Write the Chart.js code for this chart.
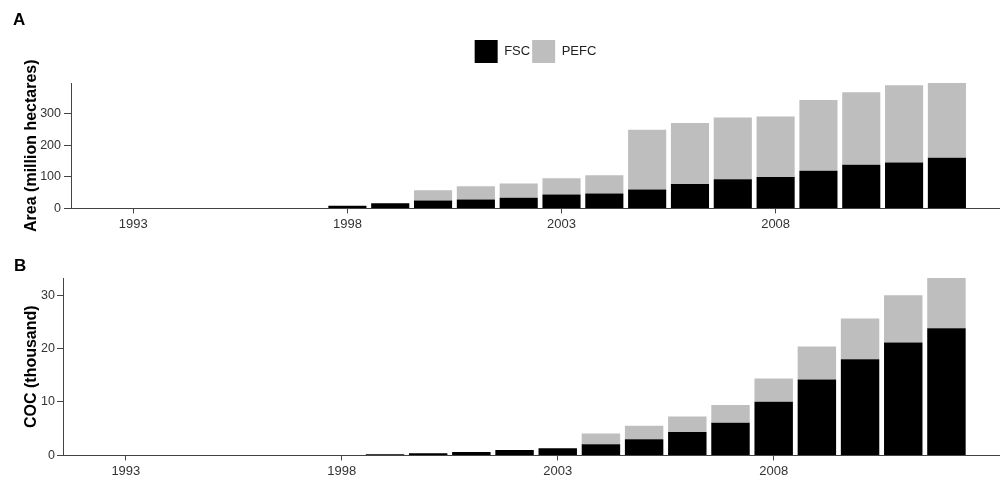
<!DOCTYPE html>
<html>
<head>
  <title>FSC and PEFC certification</title>
  <script src="https://cdn.jsdelivr.net/npm/chart.js"></script>
  <style>
    body {
      margin: 0;
      background: #fff;
      font-family: "Liberation Sans", Arial, sans-serif;
    }
    .panel {
      position: absolute;
      left: 0;
      width: 1000px;
    }
    #panelA { top: 0; height: 240px; }
    #panelB { top: 240px; height: 245px; }
    .tag {
      position: absolute;
      font-weight: bold;
      font-size: 17px;
      line-height: 17px;
      color: #000;
    }
  </style>
</head>
<body>
  <div class="panel" id="panelA"><canvas id="areaChart"></canvas></div>
  <div class="panel" id="panelB"><canvas id="cocChart"></canvas></div>
  <div class="tag" style="left:13px; top:11px;">A</div>
  <div class="tag" style="left:14px; top:257px;">B</div>

  <script>
    const years = [1998, 1999, 2000, 2001, 2002, 2003, 2004, 2005, 2006, 2007, 2008, 2009, 2010, 2011, 2012];
    const yearTicks = [1993, 1998, 2003, 2008];

    // A: certified area, million hectares
    const areaFSC  = [8, 16, 25, 28, 34, 44, 47, 60, 77, 92, 99, 119, 138, 145, 160];
    const areaPEFC = [0, 0, 32, 42, 45, 51, 58, 188, 193, 195, 191, 223, 229, 244, 237];
    const areaTicks = [0, 100, 200, 300];

    // B: chain of custody certificates, thousand
    const cocFSC  = [0, 0.2, 0.4, 0.65, 1.0, 1.35, 2.1, 3.0, 4.4, 6.1, 10.05, 14.2, 18.0, 21.15, 23.8];
    const cocPEFC = [0, 0, 0, 0, 0, 0, 2.0, 2.55, 2.9, 3.35, 4.35, 6.2, 7.6, 8.8, 9.4];
    const cocTicks = [0, 10, 20, 30];

    const FONT = '"Liberation Sans", Arial, sans-serif';
    const AXIS = '#444';

    // the legend sits a little higher above the plot than Chart.js puts it
    const legendGap = {
      id: 'legendGap',
      afterInit(chart) {
        if (!chart.legend) return;
        const fit = chart.legend.fit;
        chart.legend.fit = function() {
          fit.call(this);
          this.height += 10;
        };
      }
    };

    function makeChart(id, fsc, pefc, yMax, yTicks, yTitle, opts) {
      const ctx = document.getElementById(id).getContext('2d');
      return new Chart(ctx, {
        type: 'bar',
        data: {
          datasets: [{
            label: 'FSC',
            data: years.map((y, i) => ({x: y, y: fsc[i]})),
            backgroundColor: '#000000',
            borderWidth: 0
          }, {
            label: 'PEFC',
            data: years.map((y, i) => ({x: y, y: pefc[i]})),
            backgroundColor: '#bebebe',
            borderWidth: 0
          }]
        },
        options: {
          responsive: true,
          maintainAspectRatio: false,
          animation: false,
          categoryPercentage: 1,
          barPercentage: 0.89,
          layout: { padding: opts.padding },
          plugins: {
            tooltip: { enabled: false },
            legend: {
              display: opts.legend,
              position: 'top',
              fullSize: false,
              labels: {
                boxWidth: 23,
                boxHeight: 23,
                padding: 2,
                color: '#222',
                font: { family: FONT, size: 13 }
              }
            }
          },
          scales: {
            x: {
              type: 'linear',
              stacked: true,
              offset: false,
              min: 1991.545,
              max: 2013.24,
              afterBuildTicks: axis => { axis.ticks = yearTicks.map(v => ({value: v})); },
              grid: { offset: false, drawOnChartArea: false, tickLength: 5, color: AXIS },
              border: { display: true, color: AXIS, width: 1 },
              ticks: {
                color: '#333',
                padding: 3,
                maxRotation: 0,
                font: { family: FONT, size: 13 },
                callback: v => String(v)
              }
            },
            y: {
              stacked: true,
              min: 0,
              max: yMax,
              afterBuildTicks: axis => { axis.ticks = yTicks.map(v => ({value: v})); },
              afterFit: axis => { axis.width = opts.yWidth; },
              grid: { drawOnChartArea: false, tickLength: opts.tickLen, color: AXIS },
              border: { display: true, color: AXIS, width: 1 },
              ticks: {
                color: '#333',
                padding: opts.tickPad,
                font: { family: FONT, size: 12.5 }
              },
              title: {
                display: true,
                text: yTitle,
                color: '#000',
                padding: { top: 22, bottom: 0 },
                font: { family: FONT, size: 16, weight: 'bold' }
              }
            }
          }
        },
        plugins: [legendGap]
      });
    }

    makeChart('areaChart', areaFSC, areaPEFC, 396, areaTicks, 'Area (million hectares)', {
      legend: true,
      yWidth: 71,
      tickLen: 7,
      tickPad: 3,
      padding: { top: 38, bottom: 5, left: 0, right: 0 }
    });

    makeChart('cocChart', cocFSC, cocPEFC, 33.2, cocTicks, 'COC (thousand)', {
      legend: false,
      yWidth: 63,
      tickLen: 6,
      tickPad: 2,
      padding: { top: 28, bottom: 3, left: 0, right: 0 }
    });
  </script>
</body>
</html>
